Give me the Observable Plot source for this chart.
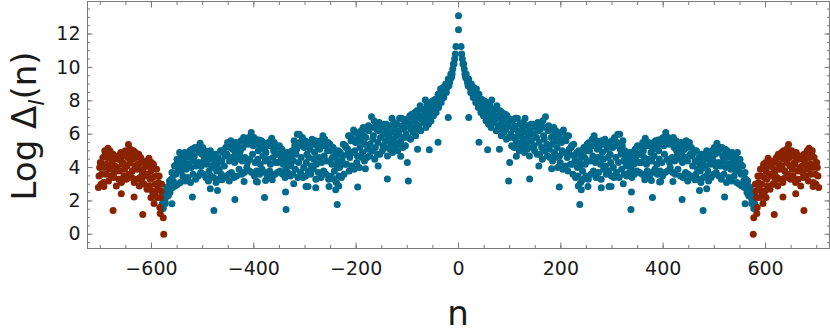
<!DOCTYPE html>
<html><head><meta charset="utf-8">
<script src="https://cdn.jsdelivr.net/npm/d3@7"></script>
<script src="https://cdn.jsdelivr.net/npm/@observablehq/plot@0.6"></script>
<style>body{margin:0;background:#fff}#chart{width:830px;height:335px}</style>
</head><body><div id="chart"></div>
<script>
// Values for n >= 0; the chart is mirror-symmetric, Δ(−n) = Δ(n).
// Blue band: four strata of points at n = 5, 10, ..., 575
const blueA = [
11.25,10.2,9.6,9.3,9.0,8.8,8.7,8.4,8.1,8.0,
7.9,7.6,8.05,7.5,7.7,7.2,7.3,7.0,7.1,6.8,
6.8,6.5,6.95,6.6,6.3,6.95,6.5,6.2,6.6,6.4,
6.7,6.3,6.8,7.05,6.2,6.3,5.9,6.2,5.7,6.1,
6.25,5.6,5.9,5.2,5.4,4.8,5.0,4.7,5.2,5.0,
5.5,5.3,5.9,5.6,5.2,5.6,5.4,5.1,5.3,5.6,
5.8,5.5,6.0,5.3,5.0,4.7,4.9,4.6,5.1,5.3,
5.2,5.5,5.75,5.3,5.4,5.1,5.6,5.65,5.4,5.8,
6.1,5.8,5.5,5.8,5.6,5.2,5.5,5.4,5.6,5.3,
5.2,4.9,5.0,4.6,4.8,4.5,5.0,4.7,5.0,5.2,
5.45,5.1,5.2,4.8,5.0,4.7,4.9,4.6,4.9,4.5,
4.1,3.7,3.2,2.8,2.3];
const blueB = [
10.8,9.9,9.3,9.0,8.7,8.5,8.2,8.1,7.8,7.6,
7.4,7.8,7.3,7.1,7.0,7.4,6.8,7.2,6.6,6.9,
6.3,6.95,6.2,5.9,6.7,6.1,5.8,6.6,6.0,6.5,
6.2,6.6,5.9,6.4,6.5,5.8,6.4,5.6,6.0,5.5,
5.7,5.9,5.1,5.3,4.7,4.9,4.4,5.0,4.6,5.4,
5.0,5.7,5.3,5.1,5.5,4.9,5.7,5.5,4.8,5.2,
5.3,6.0,5.1,5.6,4.5,4.8,4.3,4.9,4.7,4.8,
4.8,5.0,5.3,5.5,4.9,5.5,5.2,5.0,5.7,5.3,
5.6,5.4,5.7,5.2,5.0,5.4,4.9,5.1,5.2,5.5,
4.7,5.0,4.4,4.2,4.3,4.8,4.5,4.9,4.6,4.8,
4.9,5.2,4.7,5.1,4.6,4.8,4.4,4.7,4.3,4.2,
3.6,3.3,2.9,2.5,2.0];
const blueC = [
10.5,9.6,9.1,8.8,8.5,8.2,8.0,7.7,7.5,7.3,
7.1,6.9,6.7,6.9,6.5,6.6,6.4,6.3,6.5,6.0,
5.8,5.6,6.0,5.5,5.7,5.4,6.0,5.6,5.3,5.8,
5.5,5.2,5.7,5.4,5.1,5.4,4.9,5.2,4.7,5.0,
4.9,4.6,4.8,4.2,4.4,4.0,4.1,3.8,4.2,4.4,
4.4,4.7,4.3,4.6,4.2,4.5,4.1,4.6,4.3,4.0,
4.6,4.3,4.8,4.4,4.1,4.3,3.9,4.2,4.4,4.3,
4.3,4.6,4.2,4.5,4.4,4.7,4.2,4.5,4.3,4.8,
4.5,4.3,4.6,4.4,4.7,4.5,4.3,4.6,4.4,4.8,
4.1,4.4,3.9,3.8,4.0,4.1,3.8,4.2,4.4,4.1,
4.3,4.1,4.4,4.0,4.2,3.9,4.1,3.8,3.9,3.6,
3.2,2.9,2.6,2.2,1.8];
const blueD = [
10.2,9.4,8.9,8.5,8.2,7.9,7.6,7.3,7.1,6.8,
6.6,6.4,6.9,6.2,6.3,5.9,6.1,5.7,5.8,5.3,
5.2,5.4,5.0,5.2,4.9,5.1,4.7,5.2,5.0,4.8,
4.8,4.5,5.0,4.7,4.6,4.4,4.6,4.0,4.3,3.9,
4.1,3.8,4.2,3.6,3.4,3.5,3.1,3.3,3.5,3.3,
3.6,3.8,3.4,3.7,3.3,3.9,3.6,3.8,3.5,3.4,
3.7,3.4,3.9,3.6,3.5,3.7,3.4,3.6,3.8,3.7,
3.6,3.5,3.8,3.5,3.7,3.9,3.6,3.8,3.5,3.7,
3.8,4.0,3.7,3.6,3.9,3.5,3.4,3.7,3.6,3.5,
3.4,3.6,3.3,3.1,3.4,3.5,3.2,3.4,3.6,3.7,
3.5,3.3,3.6,3.1,3.4,3.2,3.5,3.1,3.0,2.9,
2.8,2.5,2.3,2.0,1.7];
// Isolated blue points (n, value)
const blueExtraN = [0,0,20,40,57,80,98,100,113,139,157,182,197,234,237,240,253,279,294,298,322,337,338,364,377,379,393,395,419,437,448,462,471,478,485,520,560,567,573,577,579,582];
const blueExtraY = [13.1,12.26,7.0,5.52,5.07,5.1,3.19,4.3,4.68,3.31,4.09,3.93,2.83,2.9,1.78,2.67,2.87,2.79,2.87,2.87,3.03,1.48,2.53,3.27,3.23,2.2,3.13,3.17,3.17,2.08,3.19,3.27,2.63,1.43,2.73,2.23,1.83,2.33,1.84,1.54,1.83,1.6];
// Red band: four strata of points at n = 580, 585, ..., 700
const redA = [3.0,3.5,3.9,4.0,4.3,4.56,4.1,4.4,4.3,4.8,4.6,5.0,4.8,5.38,4.9,4.7,4.9,4.5,4.6,4.8,4.6,5.16,4.8,4.6,4.3];
const redB = [2.6,3.1,3.5,4.2,3.8,4.1,4.3,3.9,4.6,4.2,4.9,4.5,5.1,4.6,5.0,4.3,4.5,4.7,4.1,4.4,5.0,4.6,5.0,4.2,4.0];
const redC = [2.2,2.7,3.0,3.4,3.3,3.6,3.5,3.7,3.4,3.9,4.1,3.8,4.3,4.1,3.9,4.2,3.8,4.0,3.7,4.1,3.9,4.2,4.0,3.6,3.5];
const redD = [1.6,2.2,2.5,2.6,2.9,2.7,3.0,3.2,2.9,3.3,3.1,3.4,3.6,3.3,3.5,3.1,3.3,2.9,3.4,3.5,3.2,3.6,3.1,3.0,2.8];
const redExtraN = [576,577,583,595,601,617,634,659,675,693];
const redExtraY = [0.0,1.0,1.24,1.84,2.2,1.18,2.23,2.43,1.43,2.87];

// Tick values
const xMajor = [-600,-400,-200,0,200,400,600];
const xMinor = d3.range(-700, 701, 50);
const yMajor = [0,2,4,6,8,10,12];
const yMinor = d3.range(-0.5, 14, 0.5);

const BLUE = "#00698c", RED = "#8a2300", FRAME = "#7a7a7a", INK = "#1a1a1a";

const blue = [], red = [];
function push(arr, n, y) { arr.push({n, y}); if (n !== 0) arr.push({n: -n, y}); }
function layer(arr, vals, n0, off) { vals.forEach((y, i) => push(arr, n0 + 5 * i + off, y)); }
layer(blue, blueA, 5, 0); layer(blue, blueB, 5, 1.25); layer(blue, blueC, 5, 2.5); layer(blue, blueD, 5, 3.75);
blueExtraN.forEach((n, i) => push(blue, n, blueExtraY[i]));
layer(red, redA, 580, 0); layer(red, redB, 580, 1.25); layer(red, redC, 580, 2.5); layer(red, redD, 580, 3.75);
redExtraN.forEach((n, i) => push(red, n, redExtraY[i]));

const plot = Plot.plot({
  width: 830, height: 335,
  marginLeft: 87, marginRight: 1, marginTop: 1, marginBottom: 87,
  x: {domain: [-725, 725], axis: null},
  y: {domain: [-0.85, 13.95], axis: null},
  style: {fontFamily: "DejaVu Sans", background: "white", color: INK},
  marks: [
    Plot.dot(blue, {x: "n", y: "y", r: 3.5, fill: BLUE}),
    Plot.dot(red, {x: "n", y: "y", r: 3.5, fill: RED}),
    Plot.frame({stroke: FRAME}),
    Plot.axisX(xMinor, {anchor: "bottom", tickSize: 3, dy: -3, fill: "none", stroke: FRAME, label: null}),
    Plot.axisX(xMajor, {anchor: "bottom", tickSize: 5.5, dy: -5.5, fill: "none", stroke: FRAME, label: null}),
    Plot.axisX(xMinor, {anchor: "top", tickSize: 3, dy: 3, fill: "none", stroke: FRAME, label: null}),
    Plot.axisX(xMajor, {anchor: "top", tickSize: 5.5, dy: 5.5, fill: "none", stroke: FRAME, label: null}),
    Plot.axisY(yMinor, {anchor: "left", tickSize: 3, dx: 3, fill: "none", stroke: FRAME, label: null}),
    Plot.axisY(yMajor, {anchor: "left", tickSize: 5.5, dx: 5.5, fill: "none", stroke: FRAME, label: null}),
    Plot.axisY(yMinor, {anchor: "right", tickSize: 3, dx: -3, fill: "none", stroke: FRAME, label: null}),
    Plot.axisY(yMajor, {anchor: "right", tickSize: 5.5, dx: -5.5, fill: "none", stroke: FRAME, label: null}),
    Plot.axisX(xMajor, {anchor: "bottom", tickSize: 0, tickPadding: 13, fontSize: 19, fill: INK, label: null}),
    Plot.axisY(yMajor, {anchor: "left", tickSize: 0, tickPadding: 7, fontSize: 19, fill: INK, label: null})
  ]
});
document.getElementById("chart").append(plot);

const svg = d3.select(plot);
const yl = svg.append("text")
  .attr("transform", "translate(36,126) rotate(-90)")
  .attr("text-anchor", "middle")
  .attr("font-family", "DejaVu Sans").attr("font-size", 34).attr("fill", INK);
yl.append("tspan").text("Log Δ");
yl.append("tspan").attr("font-style", "italic").attr("font-size", 22).attr("dy", 8).text("l");
yl.append("tspan").attr("dy", -8).text("(n)");
svg.append("text")
  .attr("x", 458).attr("y", 325)
  .attr("text-anchor", "middle")
  .attr("font-family", "DejaVu Sans").attr("font-size", 34).attr("fill", INK)
  .text("n");
</script>
</body></html>
